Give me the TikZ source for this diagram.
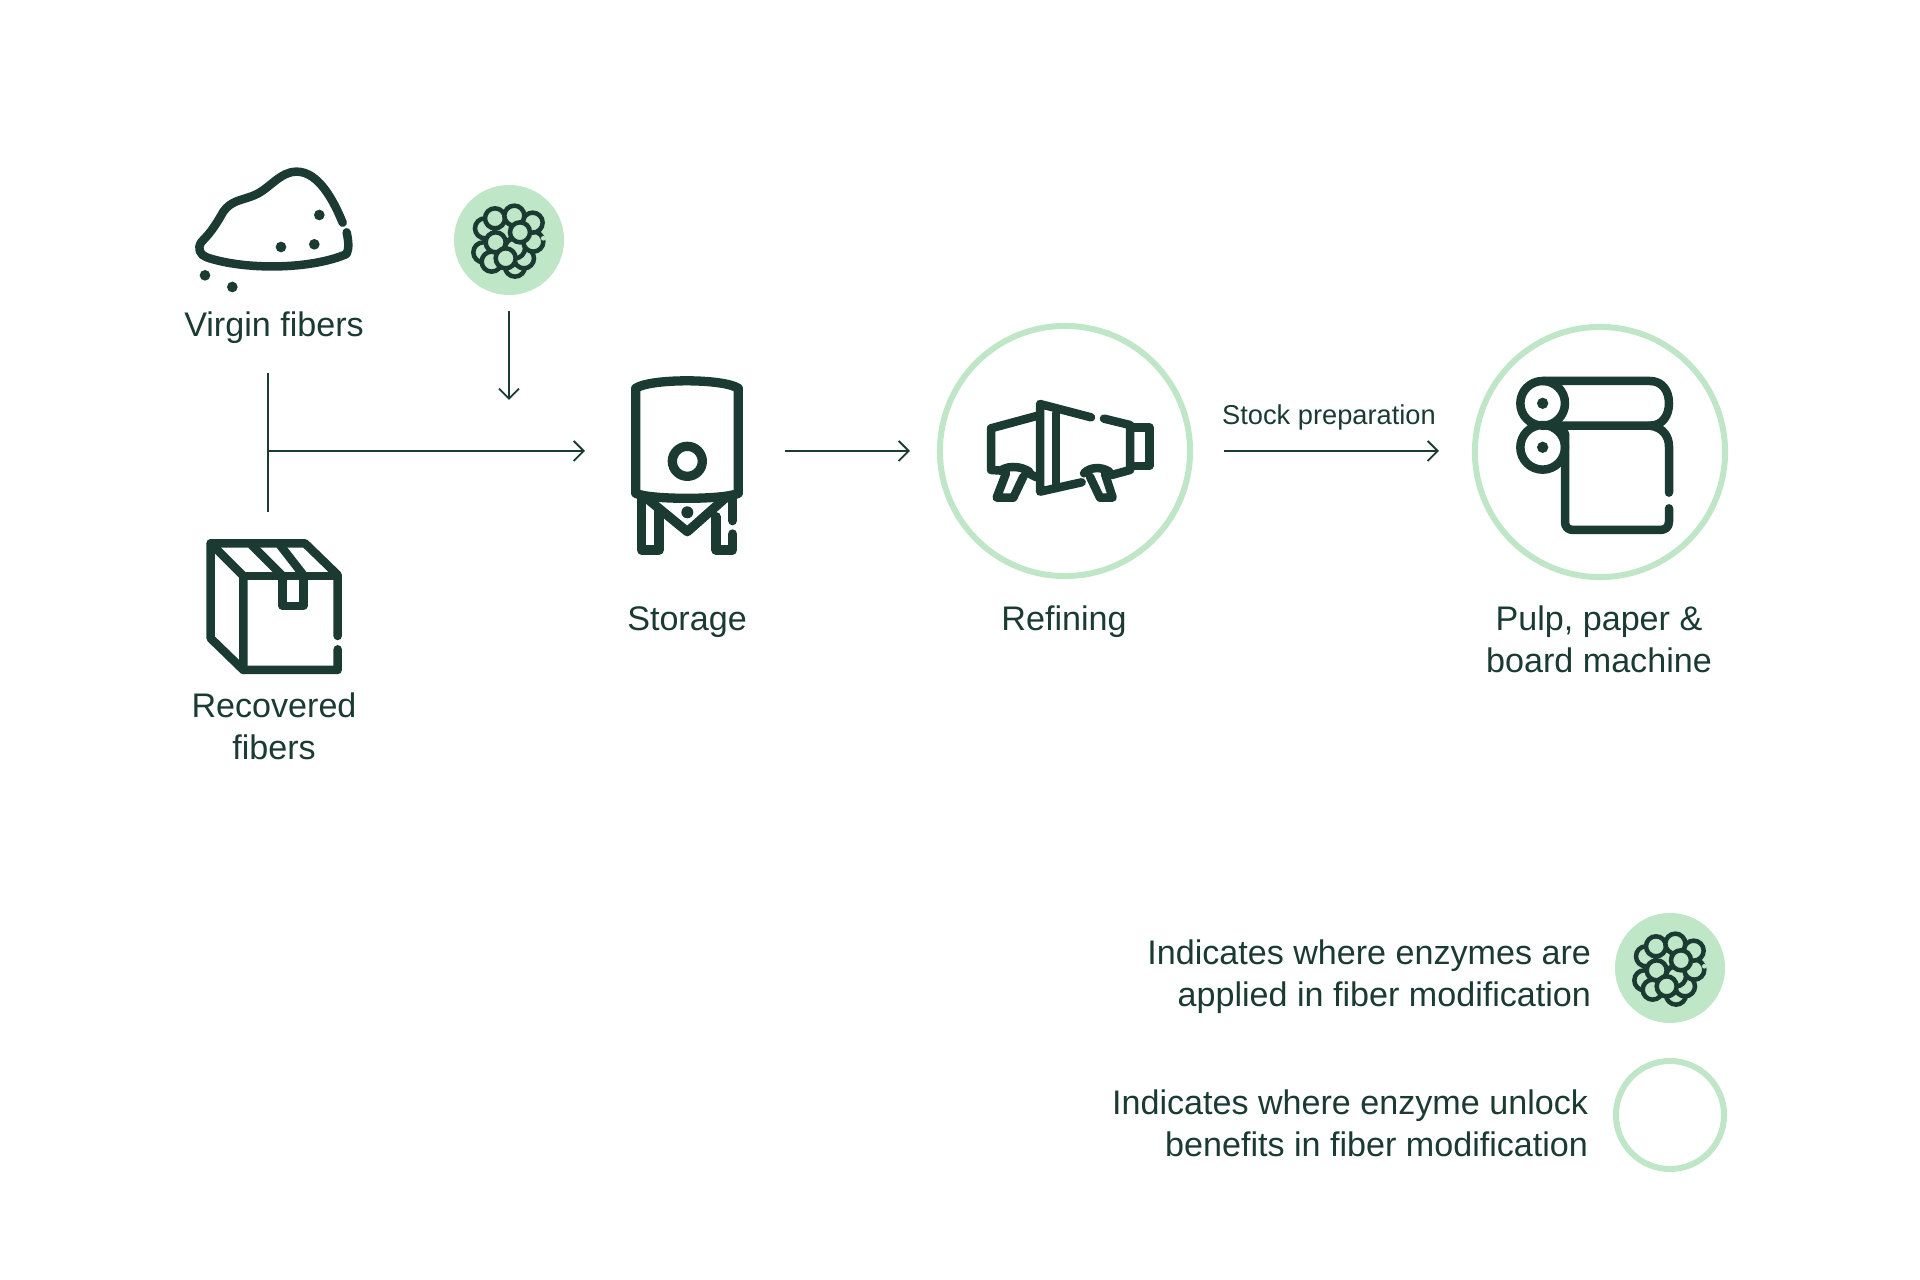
\documentclass[tikz,border=0pt]{standalone}
\usepackage{fontspec}
\setmainfont[Ligatures=NoCommon]{Liberation Sans}
\usetikzlibrary{arrows.meta}

\definecolor{ink}{HTML}{1A3A32}
\definecolor{mint}{HTML}{BFE6C6}

\tikzset{
	enzyme/.pic={
			\begin{scope}[scale=1/3, line width=0.45mm, draw=ink, fill=mint]
				\foreach \cx/\cy in {18/80, 45/55, 18/25, -17/-25, 73/5, 71/-52, -72/-35, -77/37, -52/65, -42/-65, 16/-73, 33/-23, -40/7, -10/55}
				\draw[fill=mint] (\cx,\cy) circle (30);
				\fill[mint] (103,-5) circle (7);
			\end{scope}
		}
}

\begin{document}
\begin{tikzpicture}[
		x=0.01cm, y=-0.01cm,
		% Define styles for nodes
		every node/.style={inner sep=0pt, outer sep=0pt, text=ink, align=center, font=\fontsize{9.7pt}{11.95pt}\selectfont},
		badge/.style={circle, fill=mint, minimum size=11mm},
		ring/.style={circle, draw=mint, line width=0.6mm, minimum size=25mm},
		note/.style={align=right, anchor=east},
		flow/.style={draw=ink, line width=0.18mm, -{Straight Barb[length=1mm, width=2mm, line width=0.18mm]}},
		icon/.style={draw=ink, line width=0.85mm, line cap=round, line join=round}
	]
	\useasboundingbox (0,0) rectangle (1920,1280);

	% Virgin fibers
	\begin{scope}[shift={(170,150)}, scale=1/3]
		\draw[icon] (518,218) .. controls (490,150) and (445,65) .. (380,65)
		.. controls (330,65) and (300,115) .. (255,135)
		.. controls (215,152) and (185,150) .. (160,185)
		.. controls (140,220) and (125,245) .. (95,275)
		.. controls (80,295) and (90,315) .. (110,322)
		.. controls (220,360) and (420,360) .. (530,312)
		.. controls (538,295) and (535,270) .. (530,247);
		\foreach \px/\py in {448/195, 333/291, 433/283, 105/376, 187/411}
		\fill[ink] (\px,\py) circle (16);
	\end{scope}
	\node (virgin) at (274,328) {Virgin fibers};

	% Recovered fibers
	\begin{scope}[shift={(180,520)}, scale=1/3]
		\draw[icon] (473,348) -- (473,165) -- (375,70) -- (92,70) -- (92,355) -- (190,450) -- (473,450) -- (473,388);
		\draw[icon] (92,70) -- (190,168) -- (190,450);
		\draw[icon] (190,168) -- (473,168);
		\draw[icon] (215,75) -- (305,165) (300,75) -- (370,165);
		\draw[icon] (308,168) -- (308,258) -- (370,258) -- (370,168);
	\end{scope}
	\node (recovered) at (274,726) {Recovered\\fibers};

	% Storage
	\begin{scope}[shift={(610,360)}, scale=1/3, line width=0.93mm]
		\draw[icon, line width=0.93mm] (77,400) -- (77,85) .. controls (120,55) and (340,55) .. (385,85) -- (385,400) .. controls (340,420) and (120,420) .. (77,400) -- cycle;
		\draw[icon, line width=0.93mm] (232,304) circle (45);
		\draw[icon, line width=0.93mm] (95,415) -- (95,570) -- (147,570) -- (147,450);
		\draw[icon, line width=0.93mm] (110,415) -- (232,515) -- (345,415);
		\draw[icon, line width=0.93mm] (318,470) -- (318,570) -- (368,570) -- (368,522);
		\draw[icon, line width=0.93mm] (368,482) -- (368,410);
		\fill[ink] (232,457) circle (18);
	\end{scope}
	\node (storage) at (687,622) {Storage};

	% Refining
	\node[ring] (refining) at (1065,451) {};
	\begin{scope}[shift={(930,320)}, scale=1/3]
		\draw[icon] (483,292) -- (330,252) -- (330,515) -- (455,487);
		\draw[icon] (378,280) -- (378,495);
		\draw[icon] (522,296) -- (600,315) -- (600,450) -- (545,465);
		\draw[icon] (320,288) -- (183,325) -- (183,450) -- (215,452);
		\draw[icon] (295,460) -- (320,472);
		\draw[icon] (610,322) -- (658,322) -- (658,438) -- (610,438);
		\draw[icon] (215,450) .. controls (240,435) and (275,440) .. (298,455);
		\draw[icon] (228,460) -- (200,533) -- (250,533) -- (280,470);
		\draw[icon] (462,460) .. controls (480,440) and (515,440) .. (538,455);
		\draw[icon] (480,470) -- (510,533) -- (548,533) -- (525,462);
	\end{scope}
	\node (refininglabel) at (1064,622) {Refining};

	% Pulp, paper and board machine
	\node[ring] (pulp) at (1600,452) {};
	\begin{scope}[shift={(1470,320)}, scale=1/3]
		\draw[icon] (218,250) circle (67) (218,382) circle (67);
		\fill[ink] (218,250) circle (17) (218,382) circle (17);
		\draw[icon] (218,183) -- (540,183) .. controls (577,183) and (597,213) .. (597,250) .. controls (597,287) and (577,317) .. (540,317) -- (218,317);
		\draw[icon] (540,317) .. controls (580,322) and (597,350) .. (597,380) -- (597,518);
		\draw[icon] (597,565) -- (597,605) .. controls (597,622) and (585,630) .. (570,630) -- (310,630) .. controls (295,630) and (285,622) .. (285,605) -- (285,340);
	\end{scope}
	\node (pulplabel) at (1599,639) {Pulp, paper \&\\board machine};

	% Enzyme dosing point
	\node[badge] (dose) at (509,240) {};
	\pic at (dose) {enzyme};

	% Connectors
	\coordinate (fibertop) at (268,373);
	\coordinate (fiberbottom) at (268,512);
	\coordinate (fibermid) at (268,451);
	\coordinate (storagein) at (585,451);
	\coordinate (dosestart) at (509,311);
	\coordinate (doseend) at (509,400);
	\coordinate (storageout) at (785,451);
	\coordinate (refiningin) at (910,451);
	\coordinate (stockstart) at (1224,451);
	\coordinate (stockend) at (1439,451);
	\draw[draw=ink, line width=0.18mm] (fibertop) -- (fiberbottom);
	\draw[flow] (fibermid) -- (storagein);
	\draw[flow] (dosestart) -- (doseend);
	\draw[flow] (storageout) -- (refiningin);
	\draw[flow] (stockstart) -- (stockend);
	\node[font=\fontsize{7.75pt}{10pt}\selectfont] (stock) at (1329,417) {Stock preparation};

	% Legend
	\node[badge] (legendfill) at (1670,968) {};
	\pic at (legendfill) {enzyme};
	\node[ring, minimum size=10.8mm] (legendring) at (1670,1115) {};
	\node[note] (legendone) at (1591,977) {Indicates where enzymes are\\applied in fiber modification};
	\node[note] (legendtwo) at (1588,1123) {Indicates where enzyme unlock\\benefits in fiber modification};
\end{tikzpicture}
\end{document}
